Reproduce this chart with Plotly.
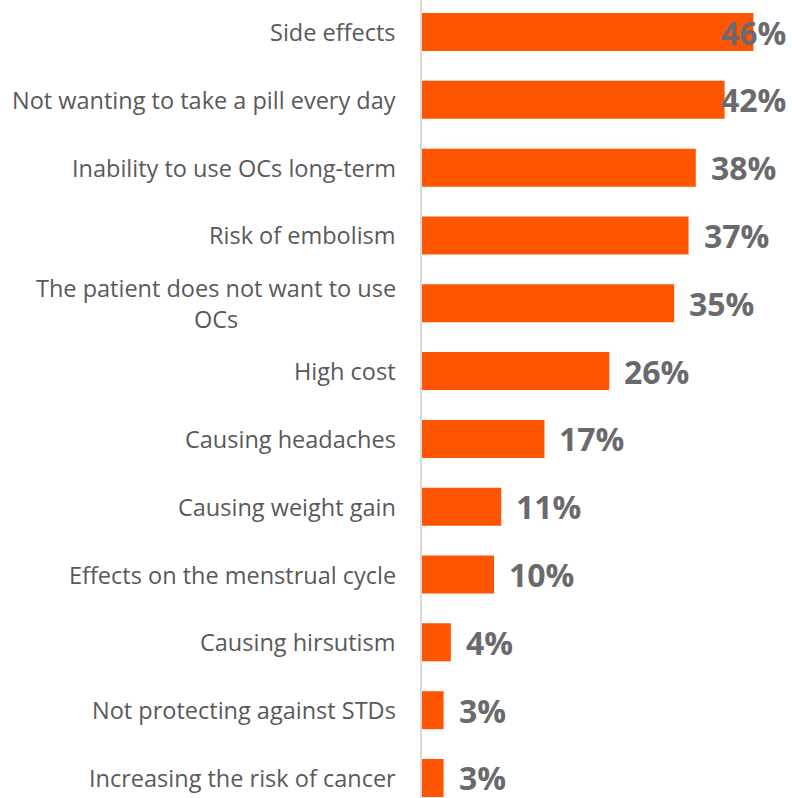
import plotly.graph_objects as go

# Reasons cited, top to bottom, with share of respondents (%)
reasons = [
    "Side effects",
    "Not wanting to take a pill every day",
    "Inability to use OCs long-term",
    "Risk of embolism",
    "The patient does not want to use<br>OCs",
    "High cost",
    "Causing headaches",
    "Causing weight gain",
    "Effects on the menstrual cycle",
    "Causing hirsutism",
    "Not protecting against STDs",
    "Increasing the risk of cancer",
]
shares = [46, 42, 38, 37, 35, 26, 17, 11, 10, 4, 3, 3]
value_labels = [f"{v}%" for v in shares]

BAR_COLOR = "#FF5500"
LABEL_GRAY = "#6A6A6E"
TEXT_GRAY = "#595959"
FONT = "Open Sans"

X_MAX = 50.8          # right end of the value axis
LABEL_ROOM = 11.0     # axis units a value label needs beyond its bar

fig = go.Figure(
    go.Bar(
        x=shares,
        y=reasons,
        orientation="h",
        marker=dict(color=BAR_COLOR, line=dict(width=0)),
        hoverinfo="skip",
    )
)

annotations = []
# category labels, centred block right-aligned to the left of the axis
for r in reasons:
    annotations.append(dict(
        x=0, xref="paper", y=r, yref="y",
        text=r, showarrow=False,
        xanchor="right", yanchor="middle", align="center",
        xshift=-24,
        font=dict(family=FONT, size=23.5, color=TEXT_GRAY),
    ))
# value labels beyond each bar; kept inside the chart when they would overflow
for r, v, t in zip(reasons, shares, value_labels):
    if v + LABEL_ROOM > X_MAX:
        ann = dict(x=1, xref="paper", xanchor="right", xshift=0)
    else:
        ann = dict(x=v, xref="x", xanchor="left", xshift=13)
    ann.update(
        y=r, yref="y", text=f"<b>{t}</b>", showarrow=False,
        yanchor="middle",
        font=dict(family=FONT, size=32, color=LABEL_GRAY),
    )
    annotations.append(ann)

fig.update_layout(
    width=792,
    height=798,
    margin=dict(l=422, r=4, t=0, b=0),
    paper_bgcolor="white",
    plot_bgcolor="white",
    bargap=0.44,
    showlegend=False,
    xaxis=dict(range=[0, X_MAX], visible=False, fixedrange=True),
    yaxis=dict(
        categoryorder="array",
        categoryarray=reasons,
        range=[11.295, -0.472],
        showticklabels=False,
        showgrid=False,
        zeroline=False,
        showline=True,
        linecolor="#D9D9D9",
        linewidth=2,
        ticks="",
        fixedrange=True,
    ),
    annotations=annotations,
)

fig.write_html("out.html")
